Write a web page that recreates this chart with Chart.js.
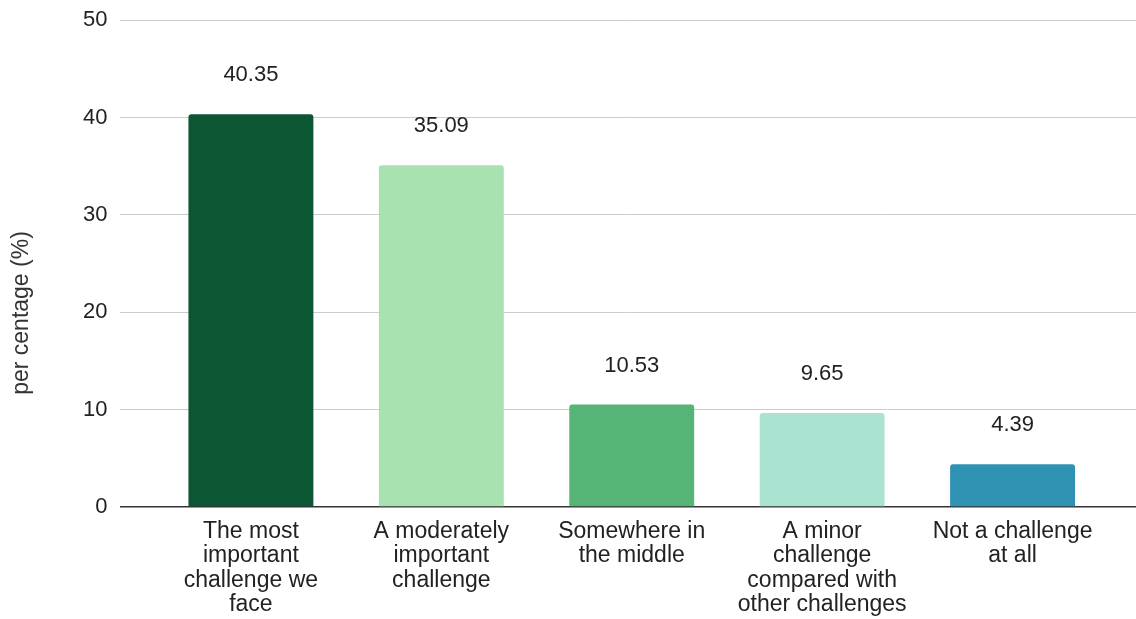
<!DOCTYPE html>
<html lang="en">
<head>
    <meta charset="UTF-8">
    <title>Challenge chart</title>
    <script src="https://cdn.jsdelivr.net/npm/chart.js"></script>
    <style>
        body { margin: 0; overflow: hidden; background: #fff; }
        #chart { display: block; margin-top: -6px; }
    </style>
</head>
<body>
<canvas id="chart" width="1146" height="627"></canvas>

<script>
    // categories (multi-line as in the original)
    var categories = [
        ["The most", "important", "challenge we", "face"],
        ["A moderately", "important", "challenge"],
        ["Somewhere in", "the middle"],
        ["A minor", "challenge", "compared with", "other challenges"],
        ["Not a challenge", "at all"]
    ];
    var percentages = [40.35, 35.09, 10.53, 9.65, 4.39];
    var barColors = ["#0b5734", "#a9e2b1", "#55b476", "#abe3d3", "#2f92b2"];
    var yTicks = [0, 10, 20, 30, 40, 50];
    var yTitle = "per centage (%)";

    var points = percentages.map(function(v, i) { return { x: i, y: v }; });
    var FONT = "'Liberation Sans', Arial, sans-serif";

    // value labels above the bars + rotated y title
    var labelPlugin = {
        id: 'labels',
        afterDatasetsDraw: function(chart) {
            var ctx = chart.ctx;
            var meta = chart.getDatasetMeta(0);
            ctx.save();
            ctx.font = '22px ' + FONT;
            ctx.fillStyle = '#222';
            ctx.textAlign = 'center';
            ctx.textBaseline = 'middle';
            meta.data.forEach(function(bar, i) {
                ctx.fillText(percentages[i].toFixed(2), bar.x, bar.y - 39);
            });
            ctx.translate(22, 319);
            ctx.rotate(-Math.PI / 2);
            ctx.font = '23px ' + FONT;
            ctx.fillStyle = '#333';
            ctx.fillText(yTitle, 0, 0);
            ctx.restore();
        }
    };

    var ctx = document.getElementById('chart').getContext('2d');
    new Chart(ctx, {
        type: 'bar',
        data: {
            datasets: [{
                data: points,
                backgroundColor: barColors,
                borderRadius: { topLeft: 3, topRight: 3 },
                borderSkipped: 'bottom',
                barPercentage: 0.656,
                categoryPercentage: 1
            }]
        },
        options: {
            responsive: false,
            animation: false,
            layout: { padding: { left: 70, right: 3, top: 2, bottom: 0 } },
            plugins: { legend: { display: false }, tooltip: { enabled: false } },
            scales: {
                x: {
                    type: 'linear',
                    offset: false,
                    min: -0.685,
                    max: 4.685,
                    afterBuildTicks: function(scale) {
                        scale.ticks = categories.map(function(c, i) { return { value: i }; });
                    },
                    ticks: {
                        autoSkip: false,
                        maxRotation: 0,
                        padding: 4,
                        color: '#222',
                        font: { family: FONT, size: 23, lineHeight: 1.065 },
                        callback: function(value) { return categories[value]; }
                    },
                    grid: { display: false },
                    border: { display: false }
                },
                y: {
                    min: 0,
                    max: 50,
                    afterBuildTicks: function(scale) {
                        scale.ticks = yTicks.map(function(v) { return { value: v }; });
                    },
                    ticks: {
                        padding: 13,
                        color: '#222',
                        font: { family: FONT, size: 22 }
                    },
                    grid: {
                        drawTicks: false,
                        color: function(c) { return c.tick && c.tick.value === 0 ? '#333' : '#cccccc'; },
                        lineWidth: function(c) { return c.tick && c.tick.value === 0 ? 1.5 : 1; }
                    },
                    border: { display: false }
                }
            }
        },
        plugins: [labelPlugin]
    });
</script>
</body>
</html>
